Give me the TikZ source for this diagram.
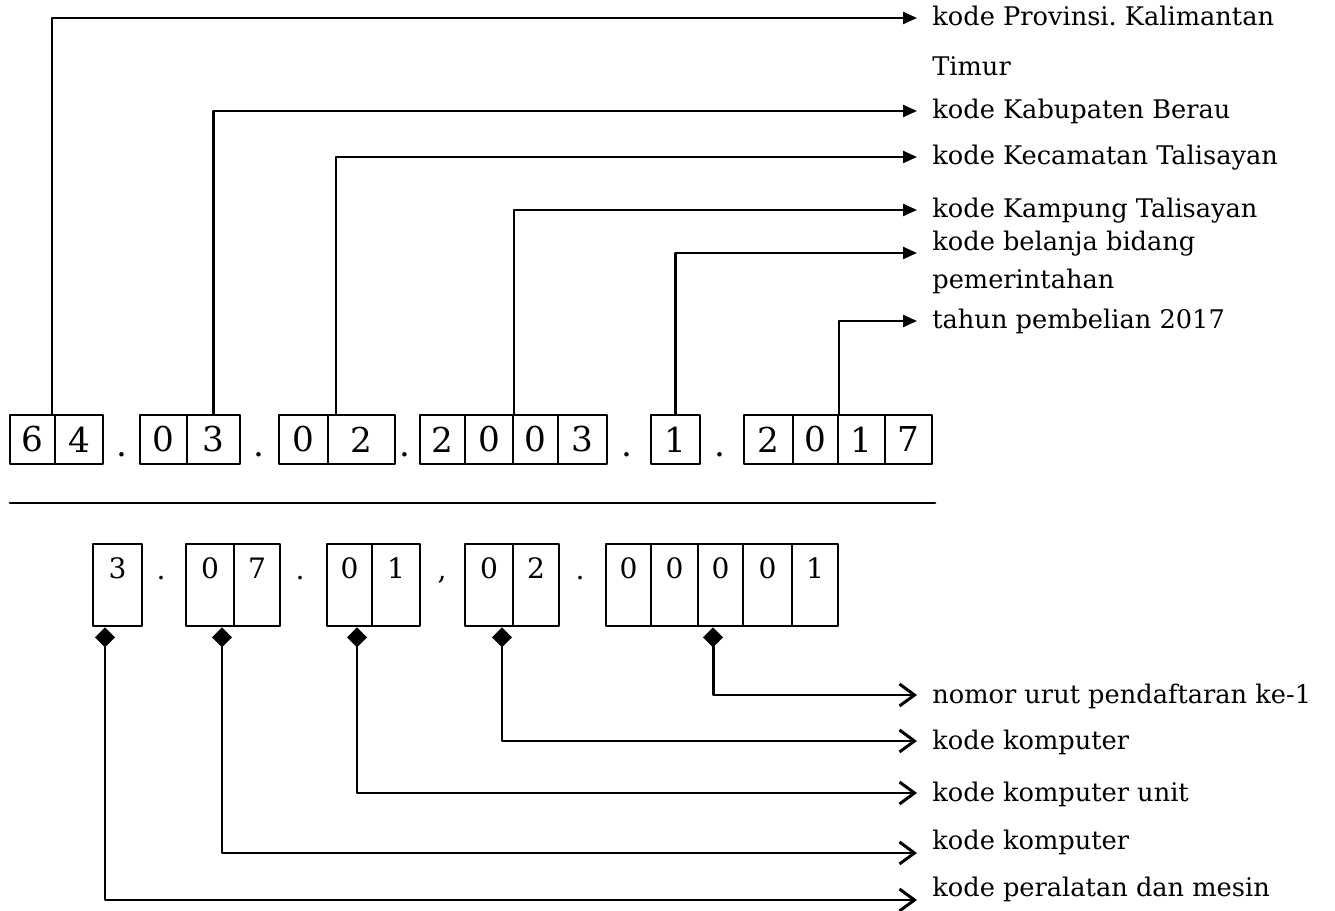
\documentclass[tikz,border=0pt]{standalone}
\usepackage{fontspec}
\setmainfont{DejaVu Serif}
\usetikzlibrary{arrows.meta,shapes.geometric}

\tikzset{
  cell/.style={draw,line width=1.3pt,inner sep=0pt,minimum height=0.98cm,font=\fontsize{19.5}{19.5}\selectfont},
  cellb/.style={draw,line width=1.6pt,inner sep=0pt,text height=0.68cm,text depth=0.96cm,font=\fontsize{16}{16}\selectfont},
  sep/.style={anchor=base,inner sep=0pt,font=\fontsize{19.5}{19.5}\selectfont},
  lab/.style={anchor=west,inner xsep=0.3cm,inner ysep=0pt,text height=0.32cm,text depth=0pt,font=\fontsize{14.6}{14.6}\selectfont},
  lead/.style={line width=1.3pt,-{Triangle[length=0.28cm,width=0.24cm]}},
  leadb/.style={line width=1.7pt,{Diamond[length=0.4cm,width=0.4cm]}-{Straight Barb[length=0.3cm,width=0.44cm]}},
}

\begin{document}
\begin{tikzpicture}[x=0.02cm,y=-0.02cm,line cap=round,line join=round]
\useasboundingbox (0,0) rectangle (1335,911);
% upper code
\foreach \n/\l/\r/\d in {a1/10/55/6,a2/55/103/4,b1/140/187/0,b2/187/240/3,c1/279/328/0,c2/328/395/2,
  d1/420/465/2,d2/465/513/0,d3/513/558/0,d4/558/607/3,e1/651/700/1,
  f1/744/793/2,f2/793/838/0,f3/838/885/1,f4/885/932/7}
  \node[cell,minimum width={(\r-\l)*0.02cm}] (\n) at ({(\l+\r)/2},439.5) {\d};
\node[sep] (s1) at (122,457) {.};
\node[sep] (s2) at (259,457) {.};
\node[sep] (s3) at (405,457) {.};
\node[sep] (s4) at (627,457) {.};
\node[sep] (s5) at (720,457) {.};
\draw[line width=1.6pt] (10,503) -- (935,503);
% lower code
\foreach \n/\l/\r/\d in {g1/93/142/3,h1/186/234/0,h2/234/280/7,i1/327/372/0,i2/372/420/1,
  j1/465/513/0,j2/513/559/2,k1/606/651/0,k2/651/698/0,k3/698/743/0,k4/743/792/0,k5/792/838/1}
  \node[cellb,minimum width={(\r-\l)*0.02cm}] (\n) at ({(\l+\r)/2},585) {\d};
\node[sep,font=\fontsize{16}{16}\selectfont] (t1) at (161,580) {.};
\node[sep,font=\fontsize{16}{16}\selectfont] (t2) at (300,580) {.};
\node[sep,font=\fontsize{16}{16}\selectfont] (t3) at (442,580) {,};
\node[sep,font=\fontsize{16}{16}\selectfont] (t4) at (580,580) {.};
% labels
\node[lab] (lprov) at (917,18) {kode Provinsi.\ Kalimantan};
\node[lab] (ltimur) at (917,68) {Timur};
\node[lab] (lkab) at (917,111) {kode Kabupaten Berau};
\node[lab] (lkec) at (917,157) {kode Kecamatan Talisayan};
\node[lab] (lkamp) at (917,210) {kode Kampung Talisayan};
\node[lab] (lbel) at (917,243) {kode belanja bidang};
\node[lab] (lpem) at (917,281) {pemerintahan};
\node[lab] (lthn) at (917,321) {tahun pembelian 2017};
\node[lab] (lurut) at (917,695) {nomor urut pendaftaran ke-1};
\node[lab] (lkom) at (917,741) {kode komputer};
\node[lab] (lunit) at (917,793) {kode komputer unit};
\node[lab] (lkom2) at (917,841) {kode komputer};
\node[lab] (lmesin) at (917,888) {kode peralatan dan mesin};
% leaders
\draw[lead] ([xshift=-0.08cm]a1.north east) |- (lprov.west);
\draw[lead] (b2.north) |- (lkab.west);
\draw[lead] ([xshift=0.18cm]c2.north west) |- (lkec.west);
\draw[lead] (d2.north east) |- (lkamp.west);
\draw[lead] (e1.north) |- ([yshift=-0.2cm]lbel.west);
\draw[lead] (f2.north east) |- (lthn.west);
\draw[leadb] ([xshift=-0.15cm]k3.south) |- (lurut.west);
\draw[leadb] ([xshift=0.26cm]j1.south) |- (lkom.west);
\draw[leadb] ([xshift=0.15cm]i1.south) |- (lunit.west);
\draw[leadb] ([xshift=0.24cm]h1.south) |- ([yshift=-0.24cm]lkom2.west);
\draw[leadb] ([xshift=-0.25cm]g1.south) |- ([yshift=-0.24cm]lmesin.west);
\end{tikzpicture}
\end{document}
